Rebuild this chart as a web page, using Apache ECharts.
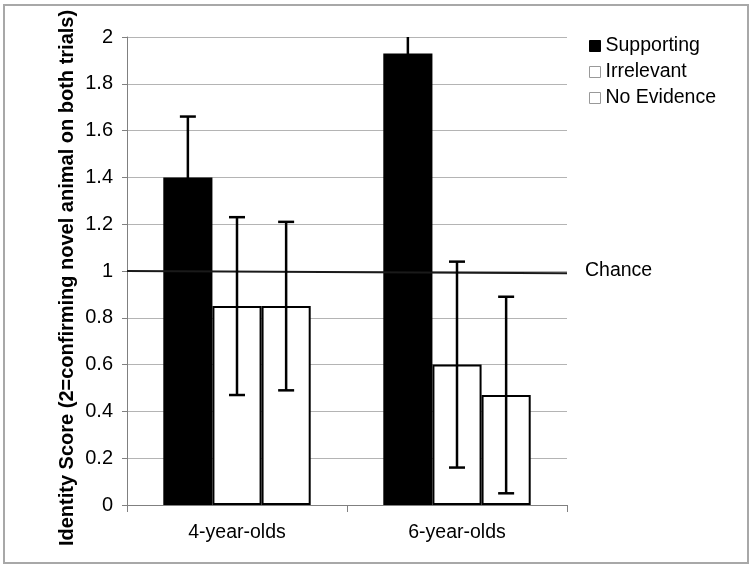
<!DOCTYPE html>
<html>
<head>
<meta charset="utf-8">
<script src="https://cdn.jsdelivr.net/npm/echarts@6/dist/echarts.min.js"></script>
<style>
html,body{margin:0;padding:0;background:#fff;}
#chart{width:753px;height:570px;}
</style>
</head>
<body>
<div id="chart"></div>
<script>
// ---- data ----
const categories = ['4-year-olds', '6-year-olds'];
const seriesNames = ['Supporting', 'Irrelevant', 'No Evidence'];
const supporting = [1.4, 1.93];
const irrelevant = [0.85, 0.6];
const noEvidence = [0.85, 0.47];
const supportingErr = [0.26, 0.3];
const irrelevantErr = [0.38, 0.44];
const noEvidenceErr = [0.36, 0.42];
const yMin = 0, yMax = 2, yStep = 0.2;
const chanceValues = [1.0, 0.99];
const chanceLabel = 'Chance';
const yTitle = 'Identity Score (2=confirming novel animal on both trials)';

const FONT = '"Liberation Sans", Arial, sans-serif';
const chart = echarts.init(document.getElementById('chart'), null, {renderer: 'canvas'});

const values = [supporting, irrelevant, noEvidence];
const errs = [supportingErr, irrelevantErr, noEvidenceErr];
const fills = ['#000000', '#ffffff', '#ffffff'];
const CAT_GAP = 0.33;

function errSeries(idx) {
  const data = categories.map((c, i) => [i, values[idx][i] - errs[idx][i], values[idx][i] + errs[idx][i]]);
  return {
    type: 'custom',
    name: seriesNames[idx] + ' err',
    xAxisIndex: 0, yAxisIndex: 0,
    clip: true,
    z: 5,
    silent: true,
    data: data,
    renderItem: function (params, api) {
      const x = api.value(0);
      const band = api.size([1, 0])[0];
      const barW = band * (1 - CAT_GAP) / 3;
      const off = (idx - 1) * barW;
      const lo = api.coord([x, api.value(1)]);
      const hi = api.coord([x, api.value(2)]);
      const cx = lo[0] + off;
      const capHalf = 8;
      const style = {stroke: '#000', lineWidth: 2.5};
      return {
        type: 'group',
        children: [
          {type: 'line', shape: {x1: cx, y1: lo[1], x2: cx, y2: hi[1]}, style: style},
          {type: 'line', shape: {x1: cx - capHalf, y1: hi[1], x2: cx + capHalf, y2: hi[1]}, style: style},
          {type: 'line', shape: {x1: cx - capHalf, y1: lo[1], x2: cx + capHalf, y2: lo[1]}, style: style}
        ]
      };
    }
  };
}

const barSeries = seriesNames.map((n, idx) => ({
  type: 'bar',
  name: n,
  data: values[idx],
  xAxisIndex: 0, yAxisIndex: 0,
  barGap: '0%',
  barCategoryGap: (CAT_GAP * 100) + '%',
  itemStyle: {color: fills[idx], borderColor: '#000', borderWidth: 2},
  z: 2
}));

const option = {
  animation: false,
  backgroundColor: '#fff',
  textStyle: {fontFamily: FONT},
  grid: {left: 127, right: 186, top: 37, bottom: 65, containLabel: false},
  legend: {
    orient: 'vertical',
    left: 589, top: 36,
    padding: 0,
    itemWidth: 11, itemHeight: 11,
    itemGap: 6,
    icon: 'rect',
    textStyle: {fontFamily: FONT, fontSize: 19.5, color: '#000'},
    data: [
      {name: 'Supporting', itemStyle: {color: '#000', borderColor: '#000', borderWidth: 1}},
      {name: 'Irrelevant', itemStyle: {color: '#fff', borderColor: '#999', borderWidth: 1}},
      {name: 'No Evidence', itemStyle: {color: '#fff', borderColor: '#999', borderWidth: 1}}
    ]
  },
  xAxis: [
    {
      type: 'category',
      data: categories,
      axisLine: {lineStyle: {color: '#808080', width: 1}},
      axisTick: {show: true, length: 7, lineStyle: {color: '#808080'}},
      axisLabel: {fontFamily: FONT, fontSize: 19.5, color: '#000', margin: 18},
      splitLine: {show: false}
    },
    {
      type: 'value', min: 0, max: 1, show: false
    }
  ],
  yAxis: [{
    type: 'value',
    min: yMin, max: yMax, interval: yStep,
    axisLine: {show: true, lineStyle: {color: '#808080', width: 1}},
    axisTick: {show: true, length: 5, lineStyle: {color: '#808080'}},
    axisLabel: {fontFamily: FONT, fontSize: 20, color: '#000', margin: 14},
    splitLine: {show: true, lineStyle: {color: '#b4b4b4', width: 1}}
  }],
  graphic: [{
    type: 'rect',
    shape: {x: 4, y: 5, width: 744, height: 558},
    style: {fill: 'none', stroke: '#a8a8a8', lineWidth: 2},
    silent: true, z: -10
  }, {
    type: 'text',
    x: 67, y: 278,
    rotation: Math.PI / 2,
    style: {
      text: yTitle,
      fontFamily: FONT, fontSize: 20, fontWeight: 'bold', fill: '#000',
      align: 'center', verticalAlign: 'middle'
    },
    silent: true
  }],
  series: [
    ...barSeries,
    errSeries(0), errSeries(1), errSeries(2),
    {
      type: 'line',
      name: chanceLabel,
      xAxisIndex: 1, yAxisIndex: 0,
      data: [[0, chanceValues[0]], [1, chanceValues[1]]],
      symbol: 'none',
      lineStyle: {color: '#1a1a1a', width: 2},
      z: 3,
      silent: true,
      endLabel: {show: true, formatter: chanceLabel, distance: 18, offset: [0, -3], fontFamily: FONT, fontSize: 19.5, color: '#000'}
    }
  ]
};
chart.setOption(option);
</script>
</body>
</html>
